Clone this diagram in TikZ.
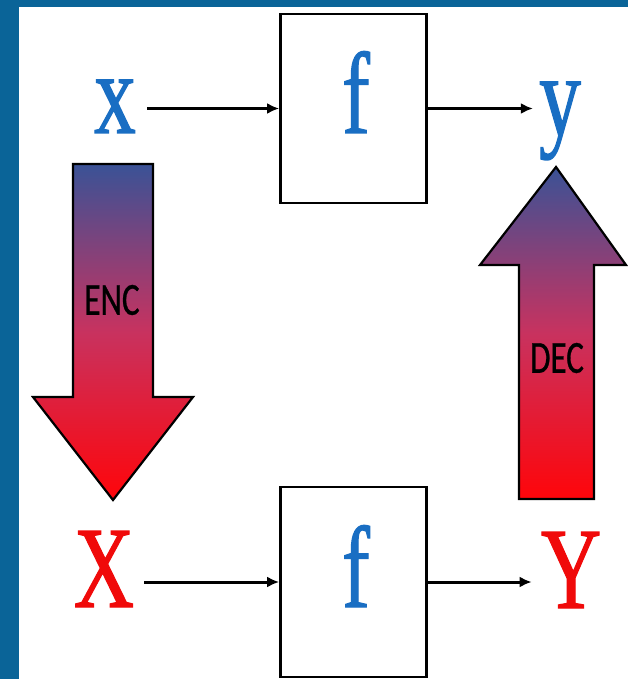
\documentclass[tikz,border=0pt]{standalone}
\usepackage{fontspec}
\setmainfont{Liberation Serif}
\newfontfamily\heavyserif[FakeBold=1.2]{Liberation Serif}
\newfontfamily\calfont[FakeBold=0.8]{Carlito}
\usetikzlibrary{arrows.meta}
\definecolor{frameblue}{RGB}{10,100,152}
\definecolor{letterblue}{RGB}{25,110,195}
\definecolor{letterred}{RGB}{240,10,10}
\definecolor{shadetop}{RGB}{58,82,150}
\definecolor{shademid}{RGB}{200,50,95}
\definecolor{shadebot}{RGB}{255,5,10}
\newcommand{\narrow}[1]{\scalebox{0.72}[1]{#1}}
\begin{document}
\begin{tikzpicture}[>={Latex[length=12pt,width=11pt]},x=1pt,y=-1pt,
	big/.style={inner sep=0pt,anchor=base,font=\heavyserif\fontsize{116}{116}\selectfont},
	box/.style={draw,line width=2.8pt,minimum width=146pt,minimum height=189pt,inner sep=0pt},
	link/.style={->,line width=3pt},
	fat/.style={draw,line width=2.2pt,line join=miter,top color=shadetop,bottom color=shadebot,middle color=shademid},
	tag/.style={inner sep=0pt,font=\calfont\fontsize{46}{46}\selectfont}]
			\fill[frameblue] (0,0) rectangle (628,679);
			\fill[white] (19,7) rectangle (628,679);
			\useasboundingbox (0,0) rectangle (628,679);
			\node[box] (ftop) at (353.5,108.5) {};
			\node[box,minimum height=190pt] (fbot) at (353.5,582) {};
			\node[big,text=letterblue] (x) at (115,133) {\narrow{x}};
			\node[big,text=letterblue] (y) at (560,135) {\narrow{y}};
			\node[big,text=letterred] (X) at (104,607) {\narrow{X}};
			\node[big,text=letterred] (Y) at (571,608) {\narrow{Y}};
			\node[big,text=letterblue] (ftxt) at (356,133) {\narrow{f}};
			\node[big,text=letterblue] (Ftxt) at (356,607) {\narrow{f}};
			\draw[link,shorten <=11pt] (ftop.west -| x.east)--(ftop.west);
			\draw[link,shorten >=6pt] (ftop.east)--(ftop.east -| y.west);
			\draw[link,shorten <=10pt] (fbot.west -| X.east)--(fbot.west);
			\draw[link,shorten >=9pt] (fbot.east)--(fbot.east -| Y.west);
			\draw[fat] (73,164)--(153,164)--(153,397)--(193,397)--(113,500)--(33,397)--(73,397)--cycle;
			\draw[fat] (519,499)--(519,265)--(480,265)--(556,167)--(626,265)--(594,265)--(594,499)--cycle;
			\node[tag] (enc) at (112,300) {\narrow{ENC}};
			\node[tag] (dec) at (557,358) {\narrow{DEC}};
	\end{tikzpicture}
\end{document}
